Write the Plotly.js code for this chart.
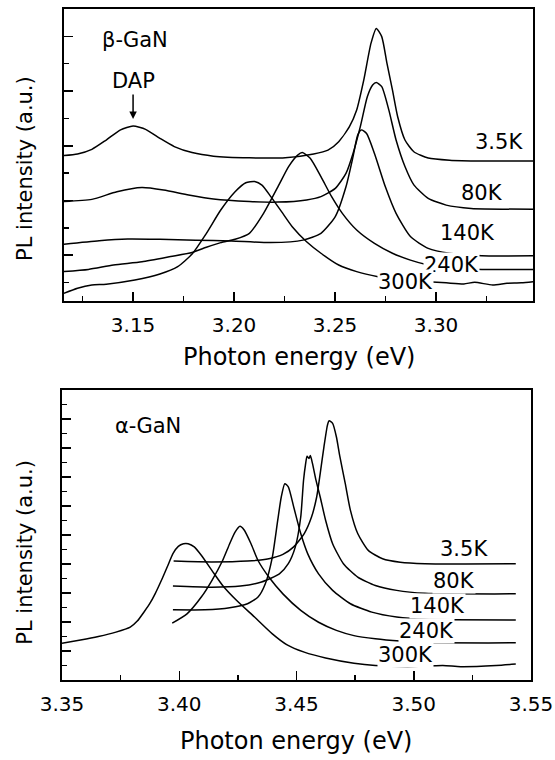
<!DOCTYPE html>
<html><head><meta charset="utf-8">
<script src="https://cdn.plot.ly/plotly-3.0.1.min.js"></script>
<style>html,body{margin:0;padding:0;background:#fff;}#chart{width:555px;height:760px;}</style>
</head><body><div id="chart"></div>
<script>
// ---- beta-GaN (top panel) ----
const betaX_3p5K = [3.1155,3.1225,3.1296,3.1367,3.1438,3.1500,3.1562,3.1633,3.1704,3.1792,3.1898,3.2076,3.2253,3.2394,3.2465,3.2518,3.2571,3.2607,3.2642,3.2678,3.2704,3.2731,3.2757,3.2784,3.2810,3.2846,3.2890,3.2961,3.3067,3.3227,3.3501];
const betaY_3p5K = [4.64,4.70,4.87,5.21,5.58,5.72,5.60,5.27,4.97,4.75,4.62,4.56,4.56,4.70,4.84,5.15,5.70,6.31,7.40,8.75,9.29,8.99,8.01,7.04,6.06,5.21,4.78,4.55,4.47,4.44,4.44];
const betaX_80K = [3.1155,3.1296,3.1420,3.1544,3.1651,3.1775,3.1898,3.2076,3.2217,3.2359,3.2430,3.2501,3.2554,3.2589,3.2625,3.2660,3.2686,3.2704,3.2731,3.2766,3.2802,3.2846,3.2890,3.2961,3.3050,3.3174,3.3501];
const betaY_80K = [2.96,3.04,3.32,3.47,3.38,3.20,3.05,2.96,2.94,3.02,3.14,3.44,3.99,4.72,5.70,6.80,7.22,7.31,7.16,6.31,5.21,4.24,3.57,3.08,2.83,2.71,2.68];
const betaX_140K = [3.1155,3.1332,3.1473,3.1633,3.1810,3.1987,3.2182,3.2341,3.2430,3.2501,3.2554,3.2589,3.2612,3.2630,3.2656,3.2695,3.2749,3.2802,3.2873,3.2961,3.3067,3.3227,3.3501];
const betaY_140K = [1.40,1.53,1.59,1.58,1.55,1.52,1.46,1.55,1.80,2.41,3.50,4.60,5.39,5.58,5.45,4.72,3.50,2.53,1.68,1.25,1.07,0.98,0.98];
const betaX_240K = [3.1155,3.1279,3.1403,3.1544,3.1686,3.1792,3.1863,3.1934,3.2005,3.2076,3.2146,3.2217,3.2270,3.2315,3.2338,3.2377,3.2430,3.2483,3.2536,3.2607,3.2695,3.2784,3.2873,3.2961,3.3050,3.3227,3.3501];
const betaY_240K = [0.40,0.48,0.64,0.76,0.95,1.10,1.29,1.46,1.58,1.80,2.53,3.50,4.24,4.66,4.75,4.54,3.87,3.14,2.53,1.92,1.43,1.07,0.82,0.64,0.52,0.48,0.48];
const betaX_300K = [3.1155,3.1225,3.1296,3.1367,3.1509,3.1633,3.1721,3.1792,3.1863,3.1934,3.2005,3.2058,3.2102,3.2138,3.2182,3.2235,3.2288,3.2359,3.2430,3.2518,3.2607,3.2713,3.2784,3.2961,3.3050,3.3138,3.3191,3.3280,3.3351,3.3422,3.3501];
const betaY_300K = [-0.40,-0.21,-0.09,-0.06,0.09,0.31,0.58,1.04,1.80,2.65,3.32,3.65,3.69,3.56,3.14,2.59,2.04,1.49,1.07,0.64,0.40,0.21,0.12,0.03,-0.01,-0.05,0.01,-0.09,-0.03,-0.01,0.05];

// ---- alpha-GaN (bottom panel) ----
const alphaX_3p5K = [3.3976,3.4139,3.4291,3.4382,3.4442,3.4488,3.4533,3.4564,3.4586,3.4601,3.4617,3.4632,3.4639,3.4654,3.4670,3.4685,3.4708,3.4730,3.4761,3.4806,3.4867,3.4942,3.5048,3.5435];
const alphaY_3p5K = [4.10,4.07,4.10,4.18,4.33,4.59,5.05,5.62,6.31,7.12,8.04,8.79,8.94,8.85,8.39,7.70,6.77,5.85,5.05,4.47,4.18,4.06,4.01,4.01];
const alphaX_80K = [3.3973,3.4139,3.4261,3.4351,3.4427,3.4465,3.4495,3.4518,3.4530,3.4538,3.4545,3.4553,3.4559,3.4568,3.4583,3.4601,3.4624,3.4654,3.4700,3.4761,3.4836,3.4927,3.5048,3.5435];
const alphaY_80K = [3.24,3.20,3.24,3.38,3.66,4.01,4.59,5.62,6.89,7.41,7.72,7.64,7.74,7.47,6.89,6.31,5.51,4.70,4.01,3.55,3.26,3.09,2.99,2.97];
const alphaX_140K = [3.3973,3.4109,3.4215,3.4291,3.4336,3.4367,3.4397,3.4420,3.4435,3.4450,3.4465,3.4488,3.4518,3.4548,3.4594,3.4654,3.4730,3.4821,3.4927,3.5048,3.5435];
const alphaY_140K = [2.42,2.42,2.49,2.63,2.86,3.32,4.24,5.51,6.31,6.77,6.66,5.97,5.05,4.35,3.66,3.09,2.63,2.34,2.17,2.09,2.07];
const alphaX_240K = [3.3970,3.4033,3.4094,3.4139,3.4185,3.4215,3.4238,3.4259,3.4276,3.4306,3.4336,3.4382,3.4442,3.4518,3.4594,3.4670,3.4745,3.4836,3.4942,3.5048,3.5435];
const alphaY_240K = [1.96,2.28,2.86,3.43,4.12,4.70,5.10,5.30,5.18,4.70,4.12,3.55,2.97,2.40,1.99,1.71,1.53,1.42,1.34,1.29,1.28];
const alphaX_300K = [3.3500,3.3579,3.3655,3.3730,3.3791,3.3821,3.3852,3.3874,3.3897,3.3927,3.3950,3.3973,3.3996,3.4018,3.4038,3.4064,3.4094,3.4139,3.4185,3.4245,3.4321,3.4397,3.4458,3.4533,3.4624,3.4745,3.4836,3.4973,3.5124,3.5200,3.5351,3.5435];
const alphaY_300K = [1.27,1.38,1.50,1.65,1.82,2.03,2.37,2.63,2.97,3.49,3.92,4.36,4.61,4.70,4.70,4.59,4.30,3.78,3.26,2.74,2.17,1.59,1.22,0.96,0.76,0.58,0.50,0.46,0.50,0.46,0.50,0.55];

const tempLabels = ['3.5K','80K','140K','240K','300K'];
const betaTickVals = [3.15,3.20,3.25,3.30];
const betaTickText = ['3.15','3.20','3.25','3.30'];
const alphaTickVals = [3.35,3.40,3.45,3.50,3.55];
const alphaTickText = ['3.35','3.40','3.45','3.50','3.55'];

const FONT = 'DejaVu Sans, Liberation Sans, Arial, sans-serif';
function tr(x, y, xa, ya) {
  return {x: x, y: y, xaxis: xa, yaxis: ya, type: 'scatter', mode: 'lines',
    line: {color: '#000', width: 1.5, shape: 'spline', smoothing: 0.6},
    hoverinfo: 'skip', showlegend: false};
}
const data = [
  tr(betaX_3p5K, betaY_3p5K, 'x', 'y'),
  tr(betaX_80K, betaY_80K, 'x', 'y'),
  tr(betaX_140K, betaY_140K, 'x', 'y'),
  tr(betaX_240K, betaY_240K, 'x', 'y'),
  tr(betaX_300K, betaY_300K, 'x', 'y'),
  tr(alphaX_3p5K, alphaY_3p5K, 'x2', 'y2'),
  tr(alphaX_80K, alphaY_80K, 'x2', 'y2'),
  tr(alphaX_140K, alphaY_140K, 'x2', 'y2'),
  tr(alphaX_240K, alphaY_240K, 'x2', 'y2'),
  tr(alphaX_300K, alphaY_300K, 'x2', 'y2')
];

function xax(domain, anchor, range, tv, tt) {
  return {domain: domain, anchor: anchor, range: range, tickmode: 'array', tickvals: tv, ticktext: tt,
    ticks: 'inside', ticklen: 9, tickwidth: 1.5, tickcolor: '#000',
    showline: true, linewidth: 2, linecolor: '#000', mirror: true,
    showgrid: false, zeroline: false, ticklabelstandoff: 5,
    tickfont: {family: FONT, size: 20, color: '#000'},
    minor: {ticks: 'inside', ticklen: 5, tickwidth: 1.5, tickcolor: '#000', dtick: 0.025, tick0: 3.125, showgrid: false}};
}
function yax(domain, anchor, range, tick0, dtick, mdtick) {
  return {domain: domain, anchor: anchor, range: range, tick0: tick0, dtick: dtick,
    ticks: 'inside', ticklen: 9, tickwidth: 1.5, tickcolor: '#000', showticklabels: false,
    showline: true, linewidth: 2, linecolor: '#000', mirror: true,
    showgrid: false, zeroline: false,
    minor: {ticks: 'inside', ticklen: 5, tickwidth: 1.5, tickcolor: '#000', dtick: mdtick, tick0: 0, showgrid: false}};
}

function tl(text, x, y, xr, yr) {
  return {text: text, x: x, y: y, xref: xr, yref: yr, showarrow: false, bgcolor: '#fff', borderpad: 0,
    xanchor: 'center', yanchor: 'middle',
    font: {family: FONT, size: 21, color: '#000'}};
}
function ptxt(text, x, y, size, angle) {
  return {text: text, xref: 'paper', yref: 'paper', x: x, y: y, showarrow: false,
    xanchor: 'center', yanchor: 'middle', textangle: angle || 0,
    font: {family: FONT, size: size, color: '#000'}};
}

const layout = {
  width: 555, height: 760, margin: {l: 0, r: 0, t: 0, b: 0},
  paper_bgcolor: '#fff', plot_bgcolor: '#fff', showlegend: false,
  xaxis: xax([0.1153, 0.9604], 'y', [3.1158, 3.348], betaTickVals, betaTickText),
  yaxis: yax([0.6039, 0.9882], 'x', [-0.676, 10], 1, 2, 1),
  xaxis2: xax([0.1117, 0.9568], 'y2', [3.35, 3.55], alphaTickVals, alphaTickText),
  yaxis2: yax([0.1053, 0.4868], 'x2', [0, 10], 0, 1, 0.5),
  annotations: [
    ptxt('Photon energy (eV)', 0.538, 0.5303, 24),
    ptxt('Photon energy (eV)', 0.534, 0.0250, 24),
    ptxt('PL intensity (a.u.)', 0.045, 0.779, 21, -90),
    ptxt('PL intensity (a.u.)', 0.045, 0.274, 21, -90),
    {text: 'β-GaN', xref: 'x', yref: 'y', x: 3.151, y: 8.87, showarrow: false, xanchor: 'center', yanchor: 'middle',
      font: {family: FONT, size: 21, color: '#000'}},
    {text: 'α-GaN', xref: 'x2', yref: 'y2', x: 3.3865, y: 8.76, showarrow: false, xanchor: 'center', yanchor: 'middle',
      font: {family: FONT, size: 21, color: '#000'}},
    {text: 'DAP', xref: 'x', yref: 'y', x: 3.15, y: 5.98, ax: 0, ay: -38, showarrow: true,
      arrowhead: 2, arrowsize: 1, arrowwidth: 1.5, arrowcolor: '#000', standoff: 0,
      font: {family: FONT, size: 21, color: '#000'}},
    tl(tempLabels[0], 3.3312, 5.15, 'x', 'y'),
    tl(tempLabels[1], 3.3227, 3.28, 'x', 'y'),
    tl(tempLabels[2], 3.3156, 1.80, 'x', 'y'),
    tl(tempLabels[3], 3.3076, 0.64, 'x', 'y'),
    tl(tempLabels[4], 3.2851, 0.02, 'x', 'y'),
    tl(tempLabels[0], 3.5215, 4.53, 'x2', 'y2'),
    tl(tempLabels[1], 3.5170, 3.43, 'x2', 'y2'),
    tl(tempLabels[2], 3.5101, 2.54, 'x2', 'y2'),
    tl(tempLabels[3], 3.5056, 1.70, 'x2', 'y2'),
    tl(tempLabels[4], 3.4965, 0.85, 'x2', 'y2')
  ]
};
Plotly.newPlot('chart', data, layout, {staticPlot: true, displayModeBar: false});
</script>
</body></html>
